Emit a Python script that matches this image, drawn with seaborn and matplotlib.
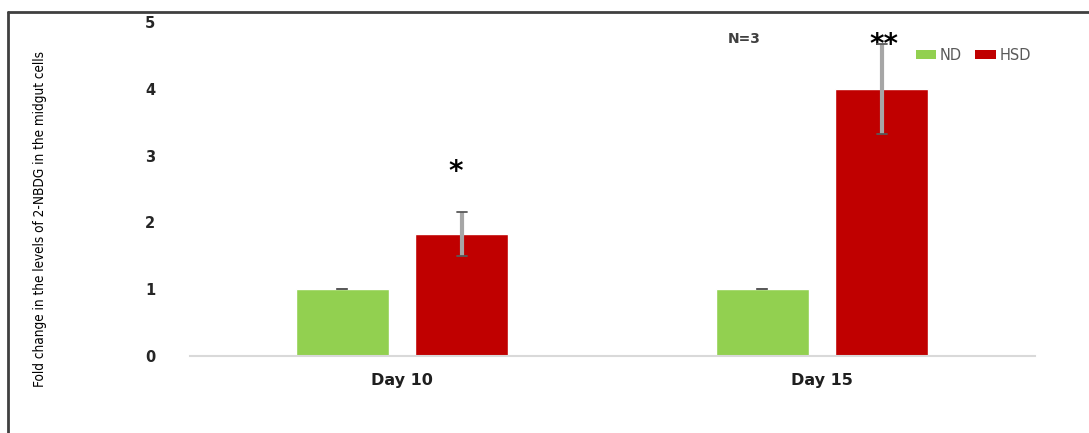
import matplotlib
matplotlib.use("Agg")
import matplotlib.pyplot as plt
from matplotlib.lines import Line2D
from matplotlib.patches import Patch
import seaborn as sns
import pandas as pd

# Data
days = ["Day 10", "Day 15"]
diets = ["ND", "HSD"]
nd_means = [1.0, 1.0]
hsd_means = [1.83, 4.0]
nd_err = [0.0, 0.0]
hsd_err = [0.33, 0.67]
stars = ["*", "**"]
yticks = [0, 1, 2, 3, 4, 5]
colors = {"ND": "#92D050", "HSD": "#C00000"}

df = pd.DataFrame({
    "day": days * 2,
    "diet": ["ND"] * len(days) + ["HSD"] * len(days),
    "fold": nd_means + hsd_means,
    "err": nd_err + hsd_err,
})

sns.set_theme(style="white")

W, H = 1089, 433
fig = plt.figure(figsize=(W / 100, H / 100), dpi=100)
ax = fig.add_axes([190 / W, 1 - 356 / H, 845 / W, 334 / H])

sns.barplot(data=df, x="day", y="fold", hue="diet", order=days, hue_order=diets,
            palette=colors, errorbar=None, width=0.568, gap=0.216,
            saturation=1, legend=False, ax=ax)

# error bars placed on the bar centres
for diet, cont in zip(diets, ax.containers):
    sub = df[df["diet"] == diet].set_index("day").loc[days]
    xs = [p.get_x() + p.get_width() / 2 for p in cont.patches]
    ax.errorbar(xs, sub["fold"], yerr=sub["err"], fmt="none",
                ecolor="#A6A6A6", elinewidth=3, capsize=0, zorder=3)
    for x, m, e in zip(xs, sub["fold"], sub["err"]):
        for yv in (m - e, m + e):
            ax.plot([x - 0.012, x + 0.012], [yv, yv], color="#595959", lw=1.3, zorder=4)

# significance marks above HSD bars
hsd_bars = ax.containers[1].patches
for p, s, m, e in zip(hsd_bars, stars, hsd_means, hsd_err):
    x = p.get_x() + p.get_width() / 2
    if s == "*":
        ax.text(x - 0.014, m + e + 0.6, s, ha="center", va="center",
                fontsize=20, fontweight="bold", color="black")
    else:
        ax.text(x + 0.006, m + e - 0.02, s, ha="center", va="center",
                fontsize=20, fontweight="bold", color="black")

ax.set_xlim(-0.505, 1.507)
ax.set_ylim(0, 5)
ax.set_yticks(yticks)
ax.set_yticklabels([str(t) for t in yticks], fontsize=10.5, fontweight="bold", color="#262626")
ax.tick_params(axis="y", length=0, pad=25)
ax.tick_params(axis="x", length=0, pad=12)
for lbl in ax.get_xticklabels():
    lbl.set_fontsize(11.5)
    lbl.set_fontweight("bold")
    lbl.set_color("#1f1f1f")
ax.set_xlabel("")
ax.set_ylabel("")
for side in ["left", "right", "top"]:
    ax.spines[side].set_visible(False)
ax.spines["bottom"].set_color("#D9D9D9")
ax.spines["bottom"].set_linewidth(1.5)

fig.text(744 / W, 1 - 39 / H, "N=3", ha="center", va="center",
         fontsize=10, fontweight="bold", color="#404040")

handles = [Patch(facecolor=colors[d], edgecolor="none", label=d) for d in diets]
ax.legend(handles=handles, loc="center left", bbox_to_anchor=(916 / W, 1 - 55 / H),
          bbox_transform=fig.transFigure, ncol=2, frameon=False, fontsize=10.5,
          labelcolor="#595959", handlelength=1.4, handleheight=0.55,
          handletextpad=0.25, columnspacing=0.9, borderaxespad=0, borderpad=0)

# rotated axis title, sized to span the plotting height
ylab = fig.text(40 / W, 1 - 219 / H, "Fold change in the levels of 2-NBDG in the midgut cells",
                rotation=90, ha="center", va="center", fontsize=10,
                family="DejaVu Sans", fontstretch="condensed", color="black")
renderer = fig.canvas.get_renderer()
span = ylab.get_window_extent(renderer).height
ylab.set_fontsize(10 * 338 / span)

# outer frame (top and left edges)
fig.add_artist(Line2D([8 / W, 1], [1 - 12 / H] * 2, transform=fig.transFigure,
                      color="#404040", lw=2))
fig.add_artist(Line2D([8 / W] * 2, [0, 1 - 12 / H], transform=fig.transFigure,
                      color="#404040", lw=2))

fig.savefig("out.png", dpi=100)
